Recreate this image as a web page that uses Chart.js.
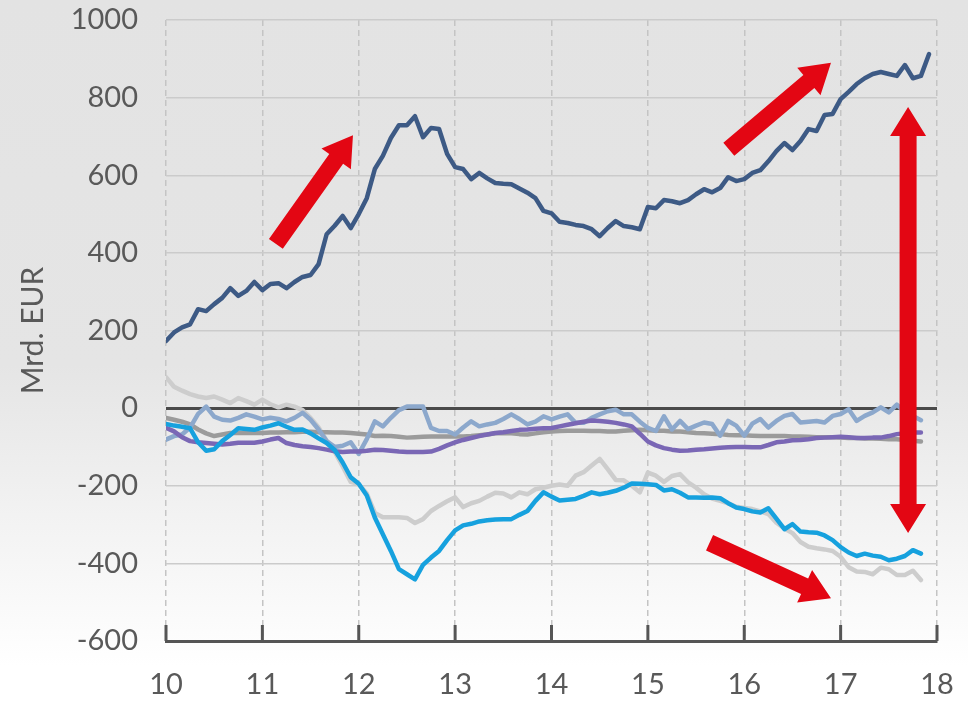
<!DOCTYPE html>
<html>
<head>
<meta charset="utf-8">
<script src="https://cdn.jsdelivr.net/npm/chart.js@4.4.1/dist/chart.umd.min.js"></script>
<style>
    html, body {
        margin: 0;
        padding: 0;
    }
    body {
        width: 968px;
        height: 702px;
        background: linear-gradient(to bottom, #e3e3e3 0%, #e5e5e5 52%, #f6f6f6 80%, #ffffff 95%);
    }
    #wrap {
        position: relative;
        width: 968px;
        height: 702px;
    }
</style>
</head>
<body>
<div id="wrap"><canvas id="t2Chart"></canvas></div>
<script>
// monthly values, Jan 2010 onwards (x = 10 + month/12)
let darkBlue = [173, 195, 208, 216, 255, 250, 268, 284, 309, 289, 302, 325,
    304, 320, 322, 309, 325, 338, 343, 371, 448, 470, 495, 464,
    500, 541, 616, 650, 696, 729, 729, 752, 698, 722, 719, 655,
    621, 616, 590, 606, 592, 580, 578, 577, 566, 555, 541, 508,
    502, 480, 477, 472, 469, 461, 443, 464, 482, 469, 466, 461,
    518, 515, 536, 533, 528, 536, 551, 564, 556, 567, 595, 585,
    590, 606, 613, 636, 662, 683, 665, 688, 719, 714, 755, 758,
    796, 815, 835, 850, 861, 866, 861, 856, 884, 850, 856, 912];

let brightBlue = [-41, -45, -48, -52, -88, -110, -106, -85, -69, -52, -54, -56,
    -50, -45, -39, -48, -56, -55, -65, -78, -90, -108, -140, -178,
    -195, -225, -282, -325, -368, -415, -428, -441, -404, -385, -368, -340,
    -315, -302, -298, -292, -289, -287, -286, -286, -275, -265, -239, -217,
    -228, -238, -236, -234, -226, -217, -222, -218, -213, -205, -194, -195,
    -196, -198, -212, -209, -218, -230, -230, -231, -230, -232, -245, -256,
    -260, -266, -269, -258, -285, -312, -299, -318, -320, -321, -328, -340,
    -358, -372, -381, -375, -380, -383, -392, -388, -381, -366, -375];

let lightGray = [80, 55, 45, 36, 30, 26, 30, 22, 13, 26, 18, 9,
    22, 10, 2, 9, 4, -5, -25, -50, -84, -112, -150, -190,
    -196, -220, -270, -281, -281, -281, -283, -296, -286, -265, -252, -240,
    -230, -255, -245, -239, -228, -218, -220, -230, -217, -222, -209, -205,
    -200, -197, -200, -174, -165, -148, -131, -157, -185, -186, -200, -217,
    -166, -174, -190, -175, -170, -191, -205, -222, -233, -239, -245, -254,
    -257, -260, -266, -273, -295, -310, -322, -345, -357, -361, -364, -368,
    -383, -410, -421, -422, -428, -411, -415, -430, -430, -419, -443];

let steelBlue = [-81, -72, -68, -50, -15, 4, -22, -30, -32, -25, -16, -22,
    -29, -25, -28, -34, -25, -12, -30, -55, -85, -100, -97, -88,
    -118, -80, -34, -47, -25, -5, 4, 4, 4, -51, -59, -59,
    -68, -50, -34, -47, -42, -38, -28, -16, -28, -42, -35, -21,
    -29, -22, -16, -38, -38, -25, -16, -8, -4, -16, -16, -35,
    -51, -59, -21, -55, -33, -54, -45, -37, -41, -71, -33, -45,
    -71, -40, -28, -50, -33, -20, -15, -37, -35, -33, -37, -20,
    -15, -3, -33, -20, -11, 2, -11, 9, -10, -20, -31];

let gray = [-25, -30, -35, -42, -55, -65, -72, -68, -64, -64, -64, -64,
    -64, -63, -63, -62, -62, -61, -61, -62, -62, -63, -63, -64,
    -66, -68, -72, -71, -72, -74, -76, -75, -74, -73, -73, -73,
    -73, -73, -72, -70, -68, -65, -64, -65, -67, -68, -65, -62,
    -60, -59, -58, -58, -58, -59, -59, -60, -60, -58, -57, -56,
    -57, -58, -58, -60, -60, -62, -64, -65, -66, -67, -69, -70,
    -70, -71, -72, -72, -72, -72, -73, -73, -74, -75, -75, -75,
    -76, -77, -77, -78, -78, -79, -80, -80, -82, -84, -86];

let purple = [-51, -60, -75, -85, -88, -90, -92, -94, -92, -89, -89, -89,
    -86, -81, -77, -90, -95, -98, -100, -103, -107, -111, -113, -112,
    -112, -110, -107, -108, -110, -112, -113, -113, -113, -112, -105, -96,
    -88, -82, -77, -72, -68, -64, -62, -59, -56, -55, -53, -52,
    -51, -47, -43, -39, -35, -32, -33, -35, -38, -42, -47, -66,
    -86, -96, -103, -107, -110, -109, -107, -106, -104, -102, -101, -100,
    -100, -101, -101, -95, -88, -86, -83, -82, -80, -77, -76, -75,
    -74, -75, -77, -77, -76, -76, -72, -67, -65, -63, -63];

let years = [10, 11, 12, 13, 14, 15, 16, 17, 18];

// red arrows in data units: [fromYear, fromValue, toYear, toValue, doubleHeaded]
let arrows = [
    [11.14, 423, 11.94, 703, false],
    [15.84, 667, 16.90, 890, false],
    [17.70, -322, 17.70, 776, true],
    [15.64, -347, 16.90, -490, false]
];

function toPoints(values) {
    return values.map((v, i) => ({ x: years[0] + i / 12, y: v }));
}

function line(values, color, width, order) {
    return {
        data: toPoints(values),
        borderColor: color,
        borderWidth: width,
        pointRadius: 0,
        tension: 0,
        borderJoinStyle: 'round',
        borderCapStyle: 'round',
        order: order
    };
}

function drawArrow(ctx, x1, y1, x2, y2, both) {
    let shaft = 17, headW = 36, headLen = 29;
    let a = Math.atan2(y2 - y1, x2 - x1);
    let len = Math.hypot(x2 - x1, y2 - y1);
    ctx.save();
    ctx.translate(x1, y1);
    ctx.rotate(a);
    let s = both ? headLen : 0;
    let e = len - headLen;
    ctx.beginPath();
    ctx.moveTo(s, -shaft / 2);
    ctx.lineTo(e, -shaft / 2);
    ctx.lineTo(e, -headW / 2);
    ctx.lineTo(len, 0);
    ctx.lineTo(e, headW / 2);
    ctx.lineTo(e, shaft / 2);
    ctx.lineTo(s, shaft / 2);
    if (both) {
        ctx.lineTo(s, headW / 2);
        ctx.lineTo(0, 0);
        ctx.lineTo(s, -headW / 2);
    }
    ctx.closePath();
    ctx.fillStyle = '#e30613';
    ctx.fill();
    ctx.restore();
}

let decorations = {
    id: 'decorations',
    afterDatasetsDraw(chart) {
        let ctx = chart.ctx;
        let xs = chart.scales.x;
        let ys = chart.scales.y;
        // inward tick marks on the bottom axis
        ctx.save();
        ctx.strokeStyle = '#555555';
        ctx.lineWidth = 3;
        years.forEach(yr => {
            let px = xs.getPixelForValue(yr);
            ctx.beginPath();
            ctx.moveTo(px, ys.bottom);
            ctx.lineTo(px, ys.bottom - 16);
            ctx.stroke();
        });
        ctx.restore();
        arrows.forEach(ar => {
            drawArrow(ctx,
                xs.getPixelForValue(ar[0]), ys.getPixelForValue(ar[1]),
                xs.getPixelForValue(ar[2]), ys.getPixelForValue(ar[3]), ar[4]);
        });
    }
};

let ctx = document.getElementById('t2Chart').getContext('2d');

let t2Chart = new Chart(ctx, {
    type: 'line',
    data: {
        datasets: [
            line(darkBlue, '#3d5a85', 4.5, 0),
            line(brightBlue, '#16a1de', 4.5, 1),
            line(purple, '#7a67b5', 4.5, 2),
            line(steelBlue, '#8ca8cc', 4.5, 3),
            line(gray, '#9b9b9b', 4.5, 4),
            line(lightGray, '#cdcdcd', 4.5, 5)
        ]
    },
    options: {
        responsive: true,
        maintainAspectRatio: false,
        animation: false,
        layout: {
            padding: { top: 20, right: 31, bottom: 0, left: 0 }
        },
        plugins: {
            legend: { display: false },
            tooltip: { enabled: false }
        },
        scales: {
            x: {
                type: 'linear',
                min: 10,
                max: 18,
                afterFit: s => {
                    s.height = 61;
                    s.paddingLeft = 0;
                    s.paddingRight = 0;
                },
                afterBuildTicks: s => { s.ticks = years.map(v => ({ value: v })); },
                grid: {
                    color: '#c4c4c4',
                    lineWidth: 1.5,
                    drawTicks: false
                },
                border: {
                    display: true,
                    color: '#555555',
                    width: 3,
                    dash: [6, 4]
                },
                ticks: {
                    padding: 26,
                    color: '#595959',
                    font: { family: 'Lato', size: 29 },
                    maxRotation: 0,
                    callback: v => String(v)
                }
            },
            y: {
                min: -600,
                max: 1000,
                afterFit: s => {
                    s.width = 166;
                    s.paddingTop = 0;
                    s.paddingBottom = 0;
                },
                grid: {
                    color: c => c.tick && c.tick.value === 0 ? '#4a4a4a' : '#cbcbcb',
                    lineWidth: c => c.tick && c.tick.value === 0 ? 3 : 1.5,
                    drawTicks: false
                },
                border: { display: false },
                ticks: {
                    stepSize: 200,
                    padding: 28,
                    color: '#595959',
                    font: { family: 'Lato', size: 29 },
                    callback: v => String(v)
                },
                title: {
                    display: true,
                    text: 'Mrd. EUR',
                    color: '#595959',
                    font: { family: 'Lato', size: 30 },
                    padding: { top: 15, bottom: 0 }
                }
            }
        }
    },
    plugins: [decorations]
});
</script>
</body>
</html>
